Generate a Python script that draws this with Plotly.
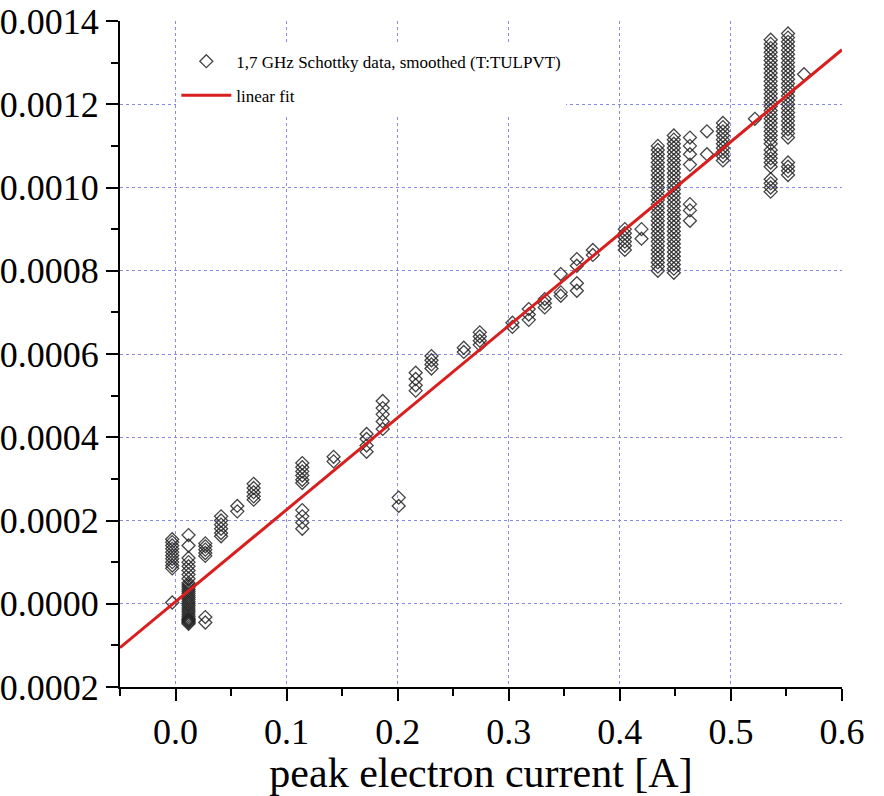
import plotly.graph_objects as go

# ---- data ----
column_current = [
    -0.003, 0.0117, 0.0268, 0.041, 0.0556, 0.0703, 0.1141, 0.1423, 0.172, 0.1865,
    0.2009, 0.2162, 0.2304, 0.2595, 0.2739, 0.3033, 0.318, 0.3324, 0.3468, 0.3613,
    0.3757, 0.4045, 0.4195, 0.4342, 0.4486, 0.4631, 0.4784, 0.4928, 0.5216, 0.5358,
    0.5514, 0.5658,
]

column_signal = [
    [0.000155, 0.000148, 0.000140, 0.000132, 0.000124, 0.000116, 0.000108, 0.000100, 0.000092, 0.000085, 0.000003],
    [0.000165, 0.000140, 0.000110, 0.000100, 0.000090, 0.000080, 0.000070, 0.000060, 0.000050, 0.000045,
     0.000040, 0.000035, 0.000030, 0.000025, 0.000020, 0.000015, 0.000010, 0.000005, 0.000000, -0.000005,
     -0.000010, -0.000015, -0.000020, -0.000025, -0.000030, -0.000035, -0.000038, -0.000040, -0.000042,
     -0.000045, -0.000048],
    [0.000145, 0.000138, 0.000130, 0.000122, 0.000115, -0.000032, -0.000045],
    [0.000210, 0.000200, 0.000190, 0.000180, 0.000170, 0.000162],
    [0.000235, 0.000222],
    [0.000288, 0.000278, 0.000268, 0.000258, 0.000250],
    [0.000338, 0.000328, 0.000318, 0.000308, 0.000298, 0.000290, 0.000225, 0.000210, 0.000195, 0.000180],
    [0.000353, 0.000342],
    [0.000408, 0.000396, 0.000380, 0.000365],
    [0.000487, 0.000470, 0.000455, 0.000438, 0.000420],
    [0.000255, 0.000235],
    [0.000555, 0.000540, 0.000525, 0.000512],
    [0.000595, 0.000585, 0.000575, 0.000565],
    [0.000615, 0.000605],
    [0.000652, 0.000642, 0.000632, 0.000622],
    [0.000675, 0.000665],
    [0.000708, 0.000695, 0.000682],
    [0.000732, 0.000722, 0.000712],
    [0.000792, 0.000748, 0.000740],
    [0.000828, 0.000812, 0.000770, 0.000752],
    [0.000850, 0.000838],
    [0.000900, 0.000890, 0.000880, 0.000870, 0.000860, 0.000850],
    [0.000900, 0.000877],
    [0.001100, 0.001090, 0.001080, 0.001070, 0.001060, 0.001050, 0.001040, 0.001030, 0.001020, 0.001010,
     0.001000, 0.000990, 0.000980, 0.000970, 0.000960, 0.000950, 0.000940, 0.000930, 0.000920, 0.000910,
     0.000900, 0.000890, 0.000880, 0.000870, 0.000860, 0.000850, 0.000840, 0.000830, 0.000820, 0.000810,
     0.000800],
    [0.001125, 0.001115, 0.001105, 0.001095, 0.001085, 0.001075, 0.001065, 0.001055, 0.001045, 0.001035,
     0.001025, 0.001015, 0.001005, 0.000995, 0.000985, 0.000975, 0.000965, 0.000955, 0.000945, 0.000935,
     0.000925, 0.000915, 0.000905, 0.000895, 0.000885, 0.000875, 0.000865, 0.000855, 0.000845, 0.000835,
     0.000825, 0.000815, 0.000805, 0.000795],
    [0.001120, 0.001100, 0.001080, 0.001055, 0.000960, 0.000945, 0.000920],
    [0.001135, 0.001080],
    [0.001155, 0.001145, 0.001135, 0.001125, 0.001115, 0.001105, 0.001095, 0.001085, 0.001075, 0.001065],
    [0.001165],
    [0.001355, 0.001345, 0.001335, 0.001325, 0.001315, 0.001305, 0.001295, 0.001285, 0.001275, 0.001265,
     0.001255, 0.001245, 0.001235, 0.001225, 0.001215, 0.001205, 0.001195, 0.001185, 0.001175, 0.001165,
     0.001155, 0.001145, 0.001135, 0.001125, 0.001115, 0.001105, 0.001090, 0.001080, 0.001070, 0.001060,
     0.001050, 0.001020, 0.001010, 0.001000, 0.000990],
    [0.001370, 0.001360, 0.001350, 0.001340, 0.001330, 0.001320, 0.001310, 0.001300, 0.001290, 0.001280,
     0.001270, 0.001260, 0.001250, 0.001240, 0.001230, 0.001220, 0.001210, 0.001200, 0.001190, 0.001180,
     0.001170, 0.001160, 0.001150, 0.001140, 0.001130, 0.001120, 0.001060, 0.001050, 0.001040, 0.001030],
    [0.001272],
]

fit_slope = 0.00221
fit_intercept = 0.000005
fit_x_range = [-0.05, 0.6]

x_ticks = [0.0, 0.1, 0.2, 0.3, 0.4, 0.5, 0.6]
y_ticks = [-0.0002, 0.0, 0.0002, 0.0004, 0.0006, 0.0008, 0.0010, 0.0012, 0.0014]

# ---- build series ----
x_pts, y_pts = [], []
for cx, ys in zip(column_current, column_signal):
    for v in ys:
        x_pts.append(cx)
        y_pts.append(v)

fit_y = [fit_slope * x + fit_intercept for x in fit_x_range]

SERIF = "Liberation Serif"

fig = go.Figure()
fig.add_trace(go.Scatter(
    x=x_pts, y=y_pts, mode="markers",
    name="1,7 GHz Schottky data, smoothed (T:TULPVT)",
    legendgroup="a",
    marker=dict(symbol="diamond-open", size=10, color="rgba(35,35,35,0.85)", line=dict(width=1.3)),
))
fig.add_trace(go.Scatter(
    x=fit_x_range, y=fit_y, mode="lines", name="linear fit",
    legendgroup="b",
    line=dict(color="#d91e1e", width=3),
))

axis_common = dict(
    showline=True, linewidth=2, linecolor="black",
    ticks="outside", ticklen=12, tickwidth=2, tickcolor="black",
    showgrid=True, gridcolor="#8a8ae0", gridwidth=1, griddash="dot",
    zeroline=False, automargin=False,
    tickfont=dict(family=SERIF, size=36, color="black"),
)

fig.update_layout(
    template="none",
    width=884, height=796,
    margin=dict(l=120, r=42, t=21, b=109),
    paper_bgcolor="white", plot_bgcolor="white",
    font=dict(family=SERIF, color="black"),
    xaxis=dict(
        range=[-0.05, 0.6], tickvals=x_ticks, tickformat=".1f",
        minor=dict(dtick=0.05, tick0=0, ticks="outside", ticklen=7, tickwidth=2, tickcolor="black", showgrid=False),
        title=dict(text="peak electron current [A]", font=dict(family=SERIF, size=42, color="black"), standoff=6),
        **axis_common,
    ),
    yaxis=dict(
        range=[-0.0002, 0.0014], tickvals=y_ticks, tickformat=".4f",
        minor=dict(dtick=0.0001, tick0=0, ticks="outside", ticklen=7, tickwidth=2, tickcolor="black", showgrid=False),
        **axis_common,
    ),
    legend=dict(
        x=0.078, y=0.966, xanchor="left", yanchor="top",
        bgcolor="white", borderwidth=0,
        font=dict(family=SERIF, size=17, color="black"),
        itemwidth=50, tracegroupgap=9, traceorder="grouped",
    ),
    showlegend=True,
)

fig.write_html("out.html")
